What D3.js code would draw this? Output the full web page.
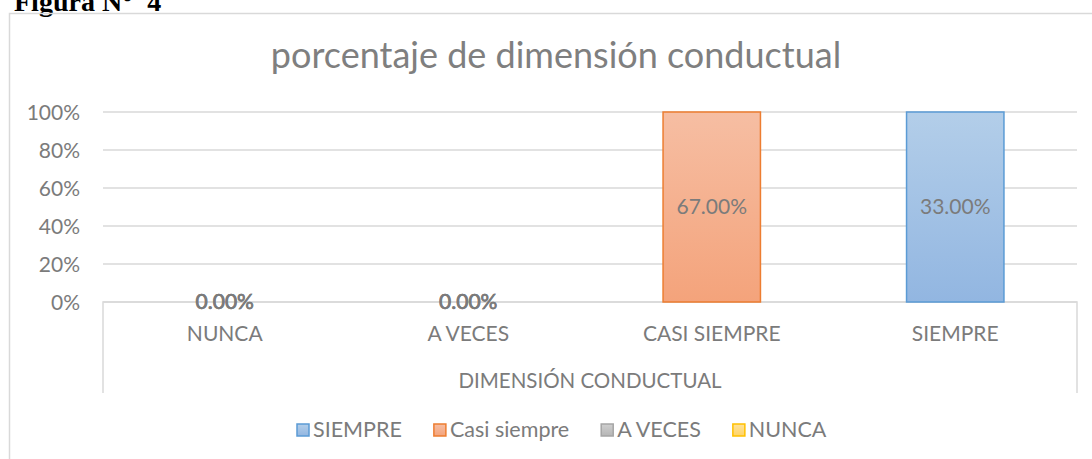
<!DOCTYPE html>
<html>
<head>
<meta charset="utf-8">
<script src="https://cdn.jsdelivr.net/npm/d3@7"></script>
<style>
  html, body { margin: 0; padding: 0; background: #fff; }
  svg { display: block; }
  text { font-family: Lato, "Open Sans", sans-serif; fill: #7b7b7b; }
</style>
</head>
<body>
<div id="chart"></div>
<script>
// categories on the x axis
var categories = ["NUNCA", "A VECES", "CASI SIEMPRE", "SIEMPRE"];
// series (legend order), values in percent per category, null = no point
var seriesNames = ["SIEMPRE", "Casi siempre", "A VECES", "NUNCA"];
var siempre     = [null, null, null, 33];
var casiSiempre = [null, null, 67, null];
var aVeces      = [0, 0, null, null];
var nunca       = [0, 0, null, null];
var yTicks = [0, 0.2, 0.4, 0.6, 0.8, 1];

var title = "porcentaje de dimensión conductual";
var axisTitle = "DIMENSIÓN CONDUCTUAL";

var W = 1092, H = 459;
var plot = {left: 103, right: 1077, top: 112, bottom: 302};

var fills = [
  {top: "#b3cee9", bottom: "#92b6e1", stroke: "#5b9bd5"},
  {top: "#f6bea3", bottom: "#f4a37b", stroke: "#ed7d31"},
  {top: "#cfcfcf", bottom: "#b5b5b5", stroke: "#a5a5a5"},
  {top: "#ffe29a", bottom: "#ffd467", stroke: "#ffc000"}
];

var svg = d3.select("#chart").append("svg")
    .attr("width", W)
    .attr("height", H);

// gradients for bars
var defs = svg.append("defs");
fills.forEach(function(f, i) {
  var g = defs.append("linearGradient")
      .attr("id", "grad" + i)
      .attr("x1", 0).attr("y1", 0).attr("x2", 0).attr("y2", 1);
  g.append("stop").attr("offset", "0%").attr("stop-color", f.top);
  g.append("stop").attr("offset", "100%").attr("stop-color", f.bottom);
});

// caption above the chart (cut off at the top in the original)
svg.append("text")
    .attr("x", 14)
    .attr("y", 11)
    .style("font-family", "'Liberation Serif', 'Times New Roman', serif")
    .style("font-weight", "bold")
    .style("font-size", "28px")
    .style("fill", "#000")
    .attr("xml:space", "preserve")
    .text("Figura N°  4");

// chart frame
svg.append("rect")
    .attr("x", 9.5).attr("y", 13.5)
    .attr("width", 1200).attr("height", 600)
    .attr("fill", "none")
    .attr("stroke", "#d9d9d9")
    .attr("stroke-width", 1.5);

var x = d3.scaleBand()
    .domain(categories)
    .range([plot.left, plot.right])
    .paddingInner(0.6)
    .paddingOuter(0.3);

var xOuter = d3.scaleBand()
    .domain(categories)
    .range([plot.left, plot.right]);

var y = d3.scaleLinear()
    .domain([0, 1])
    .range([plot.bottom, plot.top]);

// title
svg.append("text")
    .attr("x", 556)
    .attr("y", 68)
    .attr("text-anchor", "middle")
    .style("font-size", "36px")
    .style("fill", "#7f7f7f")
    .text(title);

// gridlines
svg.append("g")
  .selectAll("line")
  .data(yTicks)
  .join("line")
    .attr("x1", plot.left).attr("x2", plot.right)
    .attr("y1", function(d) { return y(d); })
    .attr("y2", function(d) { return y(d); })
    .attr("stroke", "#d9d9d9")
    .attr("stroke-width", 1.5);

// y axis labels
var yAxis = d3.axisLeft(y)
    .tickValues(yTicks)
    .tickFormat(d3.format(".0%"))
    .tickSize(0)
    .tickPadding(0);

var gy = svg.append("g")
    .attr("transform", "translate(80,0)")
    .call(yAxis);
gy.select(".domain").remove();
gy.selectAll("text")
    .style("font-family", "Lato, 'Open Sans', sans-serif")
    .style("font-size", "21px")
    .attr("fill", "#7b7b7b")
    .attr("dy", "0.35em");

// category axis box
svg.append("path")
    .attr("d", "M" + plot.left + "," + 393 + "V" + plot.bottom + "H" + plot.right + "V" + 393)
    .attr("fill", "none")
    .attr("stroke", "#d9d9d9")
    .attr("stroke-width", 1.5);

// stacked 100% data
var allSeries = [siempre, casiSiempre, aVeces, nunca];
var rows = categories.map(function(c, j) {
  var r = {cat: c};
  seriesNames.forEach(function(s, i) { r[s] = allSeries[i][j] || 0; });
  return r;
});

var stack = d3.stack()
    .keys(seriesNames)
    .offset(d3.stackOffsetExpand);
var stacked = stack(rows);

var bars = svg.append("g");
stacked.forEach(function(layer, i) {
  bars.selectAll(".bar" + i)
    .data(layer.filter(function(d) { return d[1] - d[0] > 0; }))
    .join("rect")
      .attr("class", "bar" + i)
      .attr("x", function(d) { return x(d.data.cat); })
      .attr("width", x.bandwidth())
      .attr("y", function(d) { return y(d[1]); })
      .attr("height", function(d) { return y(d[0]) - y(d[1]); })
      .attr("fill", "url(#grad" + i + ")")
      .attr("stroke", fills[i].stroke)
      .attr("stroke-width", 1.5);
});

// data labels (zero labels from two series overlap, so they look heavier)
var fmt = d3.format(".2f");
stacked.forEach(function(layer, i) {
  var raw = allSeries[i];
  svg.append("g").selectAll("text")
    .data(layer.filter(function(d, j) { return raw[j] !== null; }))
    .join("text")
      .attr("x", function(d) { return x(d.data.cat) + x.bandwidth() / 2; })
      .attr("y", function(d) { return (y(d[0]) + y(d[1])) / 2; })
      .attr("dy", "0.35em")
      .attr("text-anchor", "middle")
      .style("font-size", "21px")
      .style("stroke", function(d) { return d.data[layer.key] === 0 ? "#7b7b7b" : "none"; })
      .style("stroke-width", 0.4)
      .text(function(d) { return fmt(d.data[layer.key]) + "%"; });
});

// category labels
svg.append("g").selectAll("text")
  .data(categories)
  .join("text")
    .attr("x", function(d) { return xOuter(d) + xOuter.bandwidth() / 2; })
    .attr("y", 341)
    .attr("text-anchor", "middle")
    .style("font-size", "21px")
    .text(function(d) { return d; });

// axis title
svg.append("text")
    .attr("x", (plot.left + plot.right) / 2)
    .attr("y", 388)
    .attr("text-anchor", "middle")
    .style("font-size", "20.5px")
    .text(axisTitle);

// legend
var legend = svg.append("g");
var items = legend.selectAll("g")
  .data(seriesNames)
  .join("g");
items.append("rect")
    .attr("width", 12).attr("height", 12)
    .attr("y", -13)
    .attr("fill", function(d, i) { return "url(#grad" + i + ")"; })
    .attr("stroke", function(d, i) { return fills[i].stroke; })
    .attr("stroke-width", 1.5);
items.append("text")
    .attr("x", 16)
    .attr("y", 0)
    .style("font-size", "21.5px")
    .text(function(d) { return d; });

var pos = 0, widths = [];
items.each(function() {
  var w = 16 + d3.select(this).select("text").node().getComputedTextLength();
  widths.push(w);
});
var gap = 32;
var total = d3.sum(widths) + gap * (widths.length - 1);
var start = 297;
items.attr("transform", function(d, i) {
  var tx = start + pos;
  pos += widths[i] + gap;
  return "translate(" + tx + ",437)";
});
</script>
</body>
</html>
